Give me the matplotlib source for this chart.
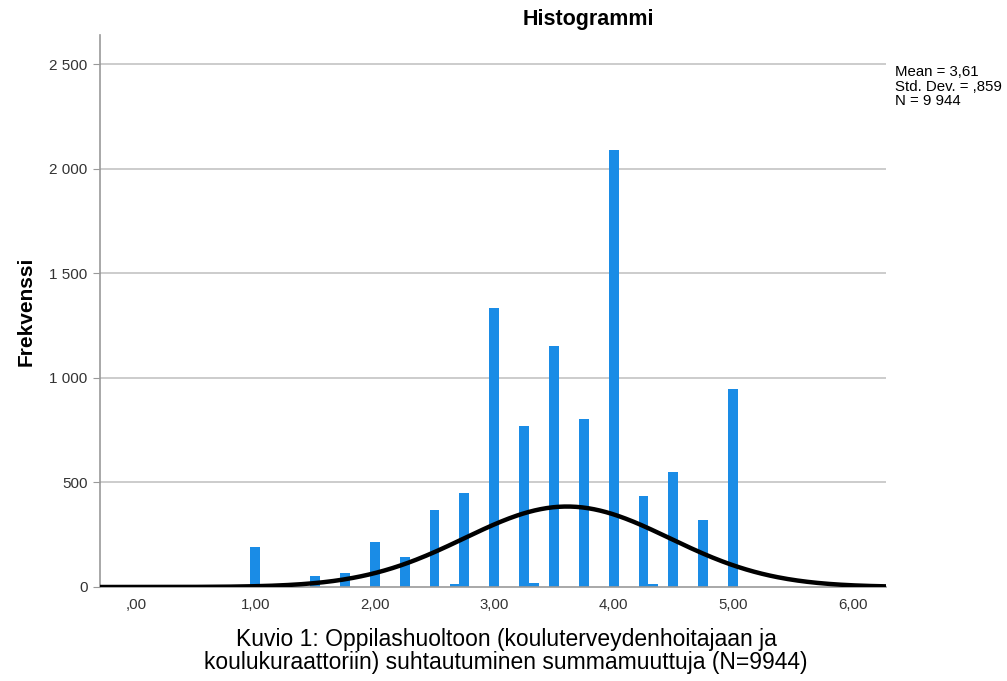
import numpy as np
import matplotlib
matplotlib.use('Agg')
import matplotlib.pyplot as plt

plt.rcParams['font.family'] = ['Liberation Sans', 'DejaVu Sans']

# histogram bars (value, frequency)
values = [1.00, 1.50, 1.75, 2.00, 2.25, 2.50, 2.67, 2.75, 3.00, 3.25, 3.33,
          3.50, 3.75, 4.00, 4.25, 4.33, 4.50, 4.75, 5.00]
freqs = [190, 55, 65, 215, 145, 368, 15, 450, 1334, 770, 20,
         1152, 803, 2089, 435, 15, 550, 320, 946]

mean = 3.61
sd = 0.859
n = 9944
bin_w = 1 / 12

xticks = [0, 1, 2, 3, 4, 5, 6]
xticklabels = [',00', '1,00', '2,00', '3,00', '4,00', '5,00', '6,00']
yticks = [0, 500, 1000, 1500, 2000, 2500]
yticklabels = ['0', '500', '1 000', '1 500', '2 000', '2 500']

fig = plt.figure(figsize=(10.07, 6.81), dpi=100)
ax = fig.add_axes([100 / 1007, 1 - 587 / 681, 786 / 1007, 552 / 681])

for y in yticks[1:]:
    ax.axhline(y, color='#c8c8c8', lw=1.3, zorder=0)

ax.bar(values, freqs, width=0.082, color='#1a8ce6', zorder=2)

# normal curve from the shown mean / sd / N
xs = np.linspace(-0.3, 6.3, 400)
ys = n * bin_w / (sd * np.sqrt(2 * np.pi)) * np.exp(-0.5 * ((xs - mean) / sd) ** 2)
ax.plot(xs, ys, color='black', lw=3.2, zorder=3, solid_capstyle='butt')

ax.set_xlim(-0.3, 6.28)
ax.set_ylim(0, 2640)
ax.set_xticks(xticks)
ax.set_xticklabels(xticklabels, fontsize=10.8, color='#333333')
ax.set_yticks(yticks)
ax.set_yticklabels(yticklabels, fontsize=11, color='#333333')
ax.tick_params(axis='x', length=0, pad=8)
ax.tick_params(axis='y', length=5, color='#999999', pad=4)

for s in ['top', 'right']:
    ax.spines[s].set_visible(False)
ax.spines['left'].set_color('#999999')
ax.spines['bottom'].set_color('#999999')
ax.spines['left'].set_linewidth(1.2)
ax.spines['bottom'].set_linewidth(1.2)

ax.set_ylabel('Frekvenssi', fontsize=15, fontweight='bold', labelpad=10)

fig.text(588 / 1007, 1 - 20 / 681, 'Histogrammi', fontsize=15.5, fontweight='bold',
         ha='center', va='center')

fig.text(895 / 1007, 1 - 65 / 681,
         'Mean = 3,61\nStd. Dev. = ,859\nN = 9 944',
         fontsize=10.8, va='top', ha='left', linespacing=1.05)

fig.text(506 / 1007, 1 - 651 / 681,
         'Kuvio 1: Oppilashuoltoon (kouluterveydenhoitajaan ja\n'
         'koulukuraattoriin) suhtautuminen summamuuttuja (N=9944)',
         fontsize=16.5, ha='center', va='center', linespacing=0.95)

fig.savefig('out.png', dpi=100)
